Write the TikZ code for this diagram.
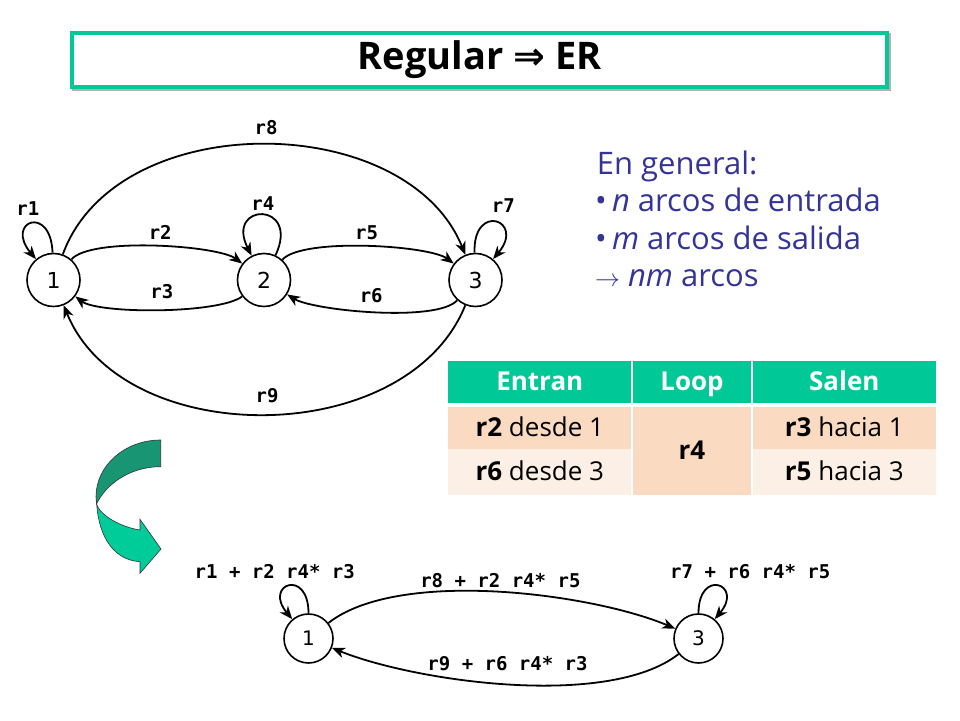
\documentclass[tikz,border=0pt]{standalone}
\usepackage{fontspec}
\setmainfont{Open Sans}
\newfontfamily\lblfont{DejaVu Sans Mono}
\newfontfamily\numfont{DejaVu Sans}
\usepackage{xcolor}
\usepackage{tikz}
\usetikzlibrary{
    arrows.meta,
    automata
}
\definecolor{slidegreen}{RGB}{0,200,150}
\definecolor{arrowdark}{RGB}{24,150,116}
\definecolor{arrowlight}{RGB}{0,204,153}
\definecolor{textblue}{RGB}{51,51,153}
\definecolor{peach}{RGB}{250,219,194}
\definecolor{peachlight}{RGB}{252,239,229}
\tikzset{
    >={Stealth[length=13pt,width=10.5pt,inset=4pt]},
    every state/.style={draw, line width=1.6pt, fill=white, inner sep=0pt,
        minimum size=53pt, font=\numfont\fontsize{22}{24}\selectfont},
    small state/.style={minimum size=49pt, font=\numfont\fontsize{20}{22}\selectfont},
    lbl/.style={font=\lblfont\bfseries\fontsize{19}{21}\selectfont, inner sep=1pt},
    arcs/.style={->, line width=1.8pt},
    cell/.style={inner sep=0pt, text height=17pt, text depth=0pt,
        font=\fontsize{26}{28}\selectfont},
    headcell/.style={cell, fill=slidegreen, text=white,
        font=\bfseries\fontsize{26}{28}\selectfont, minimum height=42.6pt},
    info/.style={text=textblue, font=\fontsize{31}{36}\selectfont,
        anchor=base west, inner sep=0pt},
    titlebar/.style={draw=slidegreen, line width=4pt, fill=white,
        minimum width=815pt, minimum height=54pt,
        font=\bfseries\fontsize{38}{42}\selectfont},
}

\begin{document}
\begin{tikzpicture}[x=1pt,y=1pt]
    \useasboundingbox (0,0) rectangle (960,720);
    % title bar
    \fill[black!30] (72,629) rectangle (891,687);
    \node[titlebar] (title) at (479.5,660) {Regular {\numfont ⇒} ER};

    % automaton with three states
    \node[state] (n1) at (53.5,440) {1};
    \node[state] (n2) at (264,440) {2};
    \node[state] (n3) at (475.5,440) {3};
    \path[arcs]
    (n1) edge[out=92, in=130, min distance=49pt] node[lbl, above=6pt, xshift=-4pt, name=l1] {r1} (n1)
    (n1) edge[out=49, in=143, looseness=0.45] node[lbl, above=5pt, xshift=5pt, name=l2] {r2} (n2)
    (n2) edge[out=-143, in=-37, looseness=0.45] node[lbl, above=9pt, xshift=3pt, name=l3] {r3} (n1)
    (n2) edge[out=65, in=117, min distance=60pt] node[lbl, above=3pt, name=l4] {r4} (n2)
    (n2) edge[out=48, in=143, looseness=0.45] node[lbl, above=5pt, name=l5] {r5} (n3)
    (n3) edge[out=-132, in=-32, looseness=0.455] node[lbl, above=7pt, xshift=-3pt, name=l6] {r6} (n2)
    (n3) edge[out=92, in=50, min distance=51pt] node[lbl, above=8pt, xshift=8pt, name=l7] {r7} (n3)
    (n1) edge[out=70, in=112, looseness=1] node[lbl, above=8pt, xshift=4pt, name=l8] {r8} (n3)
    (n3) edge[out=-112, in=-68, looseness=1] node[lbl, above=9.5pt, xshift=2.5pt, name=l9] {r9} (n1);

    % general rule
    \node[info] (t1) at (596.7,545) {En general:};
    \node[info] (t2) at (595,508.3) {•\,\textit{n} arcos de entrada};
    \node[info] (t3) at (595,470) {•\,\textit{m} arcos de salida};
    \node[info] (t4) at (595,433.3) {$\rightarrow$ \textit{nm} arcos};

    % table
    \node[headcell, minimum width=183pt] (h1) at (539.8,338) {Entran};
    \node[headcell, minimum width=117.4pt] (h2) at (692,338) {Loop};
    \node[headcell, minimum width=183.3pt] (h3) at (844.35,338) {Salen};
    \node[cell, fill=peach, minimum width=183pt, minimum height=42pt] (e1) at (539.8,291.7) {\textbf{r2} desde 1};
    \node[cell, fill=peachlight, minimum width=183pt, minimum height=45.7pt] (e2) at (539.8,247.85) {\textbf{r6} desde 3};
    \node[cell, fill=peach, minimum width=117.4pt, minimum height=87.7pt] (lp) at (692,268.85) {\textbf{r4}};
    \node[cell, fill=peach, minimum width=183.3pt, minimum height=42pt] (s1) at (844.35,291.7) {\textbf{r3} hacia 1};
    \node[cell, fill=peachlight, minimum width=183.3pt, minimum height=45.7pt] (s2) at (844.35,247.85) {\textbf{r5} hacia 3};

    % curved arrow
    \filldraw[fill=arrowlight, draw=black!80, line width=0.6pt]
        (96.5,223) .. controls (96.5,190) and (110,160) .. (140,158.3)
        -- (140,146.7) -- (161,171) -- (140,200.7) -- (140,190)
        .. controls (120,193) and (100,205) .. (96.5,216) -- cycle;
    \filldraw[fill=arrowdark, draw=black!80, line width=0.6pt]
        (160.7,280) .. controls (125,280) and (96,254.6) .. (96,223.3)
        -- (96.5,216) .. controls (105,234) and (128,253.3) .. (160.7,253.3) -- cycle;

    % reduced automaton
    \node[state, small state] (b1) at (308.5,81.5) {1};
    \node[state, small state] (b3) at (698.5,81.5) {3};
    \path[arcs]
    (b1) edge[out=90, in=130, min distance=45.5pt] node[lbl, above=5.5pt, xshift=-14.6pt, name=m1] {r1 + r2 r4* r3} (b1)
    (b1) edge[out=38, in=157, looseness=0.66] node[lbl, above=2.5pt, xshift=3pt, name=m8] {r8 + r2 r4* r5} (b3)
    (b3) edge[out=90, in=50, min distance=45.5pt] node[lbl, above=5.5pt, xshift=32.7pt, name=m7] {r7 + r6 r4* r5} (b3)
    (b3) edge[out=-142, in=-22, looseness=0.66] node[lbl, above=12pt, xshift=-2.4pt, name=m9] {r9 + r6 r4* r3} (b1);
\end{tikzpicture}
\end{document}
